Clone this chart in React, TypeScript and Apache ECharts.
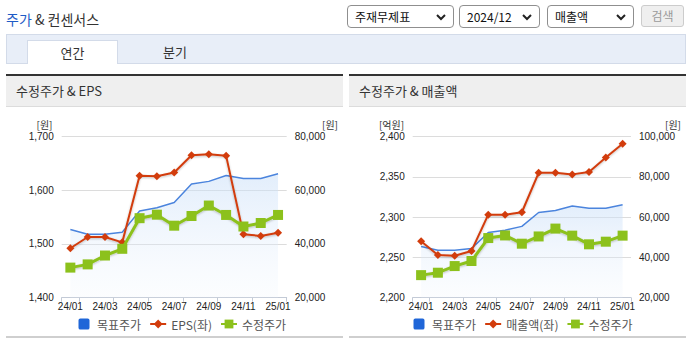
import React, { useEffect, useRef } from "react";
import * as echarts from "echarts";

// ---------- data ----------
const months = ["24/01", "24/02", "24/03", "24/04", "24/05", "24/06", "24/07", "24/08", "24/09", "24/10", "24/11", "24/12", "25/01"];
const targetPrice = [45400, 43600, 43600, 44400, 52300, 53500, 55400, 62300, 63300, 65500, 64400, 64400, 66100];
const adjPrice = [31200, 32400, 35700, 38200, 49600, 50900, 46800, 50400, 54300, 50800, 46500, 47800, 50800];
const eps = [1492, 1513, 1513, 1503, 1627, 1626, 1633, 1665, 1667, 1664, 1518, 1515, 1521];
const sales = [2270, 2253, 2252, 2258, 2303, 2303, 2306, 2355, 2355, 2353, 2356, 2374, 2391];

const epsAxis = { min: 1400, max: 1700, interval: 100 };
const priceAxisL = { min: 20000, max: 80000, interval: 20000 };
const salesAxis = { min: 2200, max: 2400, interval: 50 };
const priceAxisR = { min: 20000, max: 100000, interval: 20000 };

const FONT_NUM = "'Liberation Sans Narrow', 'Arial Narrow', 'Liberation Sans', Arial, sans-serif";
const FONT_KR = "'Noto Sans CJK KR', 'Noto Sans', sans-serif";

const BLUE_LINE = "#4b84dd";
const BLUE_ICON = "#1f66d8";
const RED = "#d23c0c";
const GREEN = "#8cc11c";
const SQUARE_ICON = "path://M2,0 h8 a2,2 0 0 1 2,2 v8 a2,2 0 0 1 -2,2 h-8 a2,2 0 0 1 -2,-2 v-8 a2,2 0 0 1 2,-2 Z";

const fmt = (v: number) => v.toLocaleString("en-US");

function xAxisFor(gridIndex: number) {
  return {
    type: "category",
    gridIndex,
    data: months,
    boundaryGap: true,
    axisLine: { lineStyle: { color: "#c3cad6", width: 1 } },
    axisTick: {
      show: true,
      length: 4,
      interval: (i: number) => i === 0 || i % 2 === 1,
      lineStyle: { color: "#c3cad6" },
    },
    axisLabel: { interval: 1, fontSize: 10, color: "#222", margin: 4, fontFamily: FONT_NUM },
    splitLine: { show: false },
  };
}

function yAxisFor(gridIndex: number, r: { min: number; max: number; interval: number }, right: boolean) {
  return {
    type: "value",
    gridIndex,
    position: right ? "right" : "left",
    min: r.min,
    max: r.max,
    interval: r.interval,
    axisLine: { show: false },
    axisTick: { show: false },
    axisLabel: { fontSize: 10, color: "#222", margin: 8, fontFamily: FONT_NUM, formatter: (v: number) => fmt(v) },
    splitLine: right ? { show: false } : { show: true, lineStyle: { color: "#dcdcdc", width: 1 } },
  };
}

const areaGradient = () =>
  new echarts.graphic.LinearGradient(0, 0, 0, 1, [
    { offset: 0, color: "rgba(200,222,248,0.75)" },
    { offset: 1, color: "rgba(236,243,252,0.25)" },
  ]);

const shadow = { shadowColor: "rgba(0,0,0,0.25)", shadowBlur: 2, shadowOffsetY: 1 };

function seriesFor(xi: number, leftY: number, rightY: number, leftName: string, leftData: number[]) {
  return [
    {
      name: "목표주가",
      type: "line",
      xAxisIndex: xi,
      yAxisIndex: rightY,
      data: targetPrice,
      showSymbol: false,
      symbol: "none",
      lineStyle: { color: BLUE_LINE, width: 1.5 },
      itemStyle: { color: BLUE_ICON },
      areaStyle: { color: areaGradient() },
      z: 2,
    },
    {
      name: leftName,
      type: "line",
      xAxisIndex: xi,
      yAxisIndex: leftY,
      data: leftData,
      symbol: "diamond",
      symbolSize: 8,
      lineStyle: { color: RED, width: 2, ...shadow },
      itemStyle: { color: RED },
      z: 3,
    },
    {
      name: "수정주가",
      type: "line",
      xAxisIndex: xi,
      yAxisIndex: rightY,
      data: adjPrice,
      symbol: "rect",
      symbolSize: 10,
      lineStyle: { color: GREEN, width: 3, ...shadow },
      itemStyle: { color: GREEN },
      z: 4,
    },
  ];
}

function legendFor(left: number, leftName: string) {
  return {
    left,
    top: 313,
    itemWidth: 16,
    itemHeight: 11,
    itemGap: 8,
    textStyle: { fontSize: 12, color: "#555", fontFamily: FONT_KR },
    data: [
      { name: "목표주가", icon: SQUARE_ICON, symbolKeepAspect: true, itemStyle: { color: BLUE_ICON } },
      { name: leftName },
      { name: "수정주가" },
    ],
  };
}

function unitText(x: number, text: string) {
  return {
    type: "text",
    x,
    y: 124,
    style: { text, fontSize: 10, fill: "#333", fontFamily: FONT_KR, align: "center", verticalAlign: "middle" },
  };
}

function Chart() {
  const ref = useRef<HTMLDivElement>(null);
  useEffect(() => {
    if (!ref.current) return;
    const chart = echarts.init(ref.current, undefined, { renderer: "svg" });
    chart.setOption({
      animation: false,
      backgroundColor: "transparent",
      grid: [
        { left: 61.7, top: 136.5, width: 225, height: 161.2 },
        { left: 412.7, top: 136.5, width: 218.3, height: 161.2 },
      ],
      xAxis: [xAxisFor(0), xAxisFor(1)],
      yAxis: [
        yAxisFor(0, epsAxis, false),
        yAxisFor(0, priceAxisL, true),
        yAxisFor(1, salesAxis, false),
        yAxisFor(1, priceAxisR, true),
      ],
      legend: [legendFor(73.5, "EPS(좌)"), legendFor(408.5, "매출액(좌)")],
      series: [
        ...seriesFor(0, 0, 1, "EPS(좌)", eps),
        ...seriesFor(1, 2, 3, "매출액(좌)", sales),
      ],
      graphic: [unitText(44.5, "[원]"), unitText(330, "[원]"), unitText(391.5, "[억원]"), unitText(673, "[원]")],
    });
    return () => chart.dispose();
  }, []);
  return <div ref={ref} style={{ position: "absolute", left: 0, top: 0, width: 697, height: 347, zIndex: 5 }} />;
}

const abs = (s: React.CSSProperties): React.CSSProperties => ({ position: "absolute", boxSizing: "border-box", ...s });

function Chevron() {
  return (
    <svg width="10" height="7" viewBox="0 0 10 7" style={{ position: "absolute", right: 7, top: 8 }}>
      <polyline points="1,1 5,5 9,1" fill="none" stroke="#222" strokeWidth="2" />
    </svg>
  );
}

function SelectBox({ left, width, label }: { left: number; width: number; label: string }) {
  return (
    <div
      style={abs({
        left,
        top: 5,
        width,
        height: 23,
        border: "1px solid #8f8f8f",
        borderRadius: 4,
        fontSize: 12,
        lineHeight: "21px",
        paddingLeft: 7,
        color: "#111",
        background: "#fff",
      })}
    >
      {label}
      <Chevron />
    </div>
  );
}

function Panel({ left, title }: { left: number; title: string }) {
  return (
    <>
      <div style={abs({ left, top: 74, width: 337, height: 2, background: "#333" })} />
      <div
        style={abs({
          left,
          top: 76,
          width: 337,
          height: 31,
          background: "#efefef",
          borderBottom: "1px solid #dcdcdc",
          fontSize: 13,
          lineHeight: "30px",
          paddingLeft: 10,
          color: "#333",
        })}
      >
        {title}
      </div>
      <div style={abs({ left, top: 336, width: 337, height: 2, background: "#cfcfcf" })} />
    </>
  );
}

export default function App() {
  return (
    <div style={{ position: "fixed", left: 0, top: 0, width: 697, height: 347, background: "#fff", fontFamily: FONT_KR, overflow: "hidden" }}>
      <div style={abs({ left: 6, top: 9, fontSize: 14, lineHeight: "20px", color: "#333" })}>
        <span style={{ color: "#1e5bc6" }}>주가</span> &amp; 컨센서스
      </div>
      <SelectBox left={347} width={107} label="주재무제표" />
      <SelectBox left={459} width={81} label="2024/12" />
      <SelectBox left={547} width={87} label="매출액" />
      <div
        style={abs({
          left: 641,
          top: 5,
          width: 43,
          height: 22,
          background: "#efefef",
          border: "1px solid #cccccc",
          borderRadius: 3,
          color: "#9a9a9a",
          fontSize: 12,
          lineHeight: "20px",
          textAlign: "center",
        })}
      >
        검색
      </div>
      <div style={abs({ left: 6, top: 34, width: 680, height: 30, background: "#e8eef8", border: "1px solid #d3dbe9" })} />
      <div
        style={abs({
          left: 27,
          top: 40,
          width: 91,
          height: 24,
          background: "#fff",
          border: "1px solid #d3dbe9",
          borderBottom: "none",
          fontSize: 13,
          lineHeight: "23px",
          textAlign: "center",
          color: "#333",
        })}
      >
        연간
      </div>
      <div style={abs({ left: 150, top: 40, width: 50, height: 24, fontSize: 13, lineHeight: "23px", textAlign: "center", color: "#333" })}>분기</div>
      <Panel left={6} title="수정주가 & EPS" />
      <Panel left={349} title="수정주가 & 매출액" />
      <Chart />
    </div>
  );
}
